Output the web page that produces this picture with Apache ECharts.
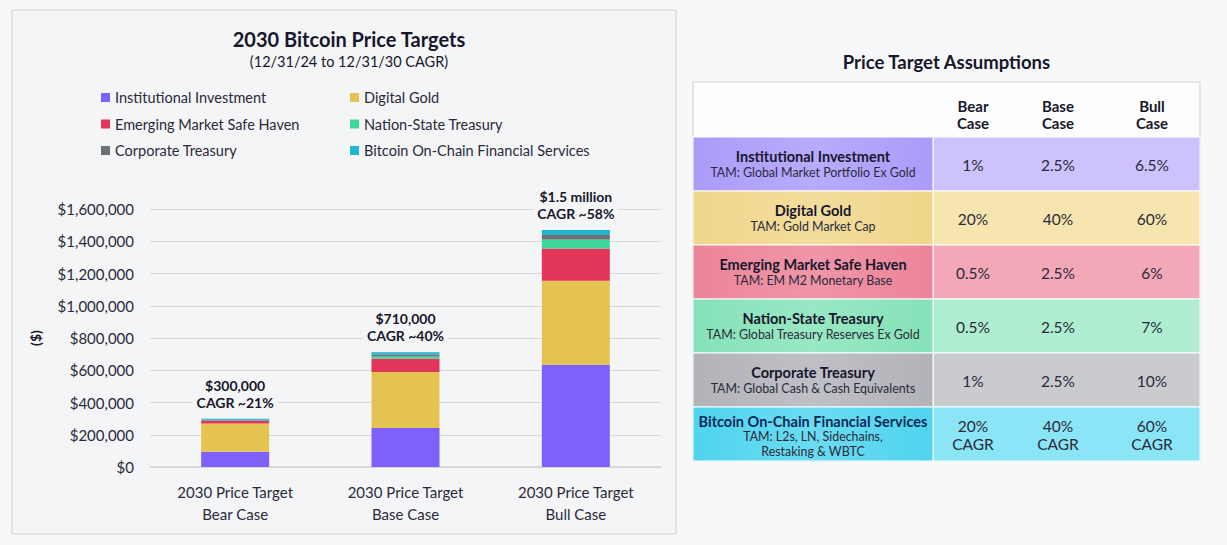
<!DOCTYPE html>
<html>
<head>
<meta charset="utf-8">
<title>2030 Bitcoin Price Targets</title>
<script src="https://cdn.jsdelivr.net/npm/echarts@6/dist/echarts.min.js"></script>
<style>
  html, body { margin: 0; padding: 0; background: #f7f8f9; }
  #main { width: 1227px; height: 545px; }
</style>
</head>
<body>
<div id="main"></div>
<script>
// stacked bar data ($)
const categories = ['2030 Price Target\nBear Case', '2030 Price Target\nBase Case', '2030 Price Target\nBull Case'];
const institutional = [95000, 242000, 634000];
const digitalGold = [175000, 347000, 521000];
const emergingMarket = [15000, 83000, 200000];
const nationState = [4000, 14000, 56000];
const corporate = [4000, 12000, 27000];
const onChain = [7000, 14000, 31000];
const totalLabels = ['$300,000', '$710,000', '$1.5 million'];
const cagrLabels = ['CAGR ~21%', 'CAGR ~40%', 'CAGR ~58%'];
const yMax = 1600000;
const yStep = 200000;

// assumptions table
const caseHeaders = ['Bear\nCase', 'Base\nCase', 'Bull\nCase'];
const assumptionNames = ['Institutional Investment', 'Digital Gold', 'Emerging Market Safe Haven',
  'Nation-State Treasury', 'Corporate Treasury', 'Bitcoin On-Chain Financial Services'];
const assumptionTams = ['TAM: Global Market Portfolio Ex Gold', 'TAM: Gold Market Cap', 'TAM: EM M2 Monetary Base',
  'TAM: Global Treasury Reserves Ex Gold', 'TAM: Global Cash & Cash Equivalents', 'TAM: L2s, LN, Sidechains,\nRestaking & WBTC'];
const bearCase = ['1%', '20%', '0.5%', '0.5%', '1%', '20%\nCAGR'];
const baseCase = ['2.5%', '40%', '2.5%', '2.5%', '2.5%', '40%\nCAGR'];
const bullCase = ['6.5%', '60%', '6%', '7%', '10%', '60%\nCAGR'];

const seriesNames = assumptionNames;
const seriesColors = ['#7f60fa', '#e5c352', '#e1355a', '#3dd69b', '#6d7076', '#22b5cf'];
const nameCellColors = [['#ab9bf9', '#b8abfb'], ['#efd68a', '#f2dd9c'], ['#ec8499', '#f095a8'],
  ['#86e2b8', '#98e8c3'], ['#b1b3b9', '#bec0c5'], ['#4fd4ee', '#6bdcf2']];
const valueCellColors = ['#cdc2fd', '#f6e5ae', '#f3a8b7', '#afeed1', '#cacbcf', '#8ae5f6'];

const FONT = 'Lato';
const INK = '#17172b';
const PANEL = '#f4f5f7';

const chart = echarts.init(document.getElementById('main'), null, { renderer: 'svg' });

// table layout
const tLeft = 693, tRight = 1200, tTop = 82, headH = 55, rowH = 54, nameRight = 933;
const colCenters = [973, 1058, 1152];
const nameCenter = (tLeft + nameRight) / 2;

const graphics = [];
graphics.push({
  type: 'rect', z: -10, silent: true,
  shape: { x: 12, y: 10, width: 664, height: 524 },
  style: { fill: PANEL, stroke: '#d3d4d6', lineWidth: 1.2 }
});
graphics.push({
  type: 'text', style: { text: 'Price Target Assumptions', x: (tLeft + tRight) / 2, y: 62,
    align: 'center', verticalAlign: 'middle', fill: INK, fontFamily: FONT, fontSize: 18.5, fontWeight: 'bold' }
});
graphics.push({
  type: 'rect', shape: { x: tLeft, y: tTop, width: tRight - tLeft, height: headH + rowH * 6 },
  style: { fill: '#fdfdfd', stroke: '#d6d7d9', lineWidth: 1.2 }
});
caseHeaders.forEach((h, i) => {
  graphics.push({
    type: 'text', style: { text: h, x: colCenters[i], y: tTop + headH / 2 + 5, align: 'center',
      verticalAlign: 'middle', lineHeight: 17, fill: INK, fontFamily: FONT, fontSize: 15, fontWeight: 'bold' }
  });
});
assumptionNames.forEach((name, r) => {
  const y0 = tTop + headH + r * rowH;
  const last = r === assumptionNames.length - 1;
  graphics.push({
    type: 'rect', shape: { x: nameRight, y: y0, width: tRight - nameRight, height: rowH },
    style: { fill: valueCellColors[r], stroke: '#ffffff', lineWidth: 1 }
  });
  graphics.push({
    type: 'rect', shape: { x: tLeft, y: y0, width: nameRight - tLeft, height: rowH },
    style: {
      fill: new echarts.graphic.LinearGradient(0, 0, 1, 0, [
        { offset: 0, color: nameCellColors[r][0] }, { offset: 0.5, color: nameCellColors[r][1] },
        { offset: 1, color: nameCellColors[r][0] }]),
      stroke: '#ffffff', lineWidth: 1
    }
  });
  graphics.push({
    type: 'text', style: { text: name, x: nameCenter, y: y0 + (last ? 14 : 19), align: 'center',
      verticalAlign: 'middle', fill: last ? '#0c2a56' : INK, fontFamily: FONT, fontSize: 14.5, fontWeight: 'bold' }
  });
  graphics.push({
    type: 'text', style: { text: assumptionTams[r], x: nameCenter, y: y0 + (last ? 37 : 35), align: 'center',
      verticalAlign: 'middle', lineHeight: 15, fill: '#2a2a3a', fontFamily: FONT, fontSize: 12.4 }
  });
  [bearCase, baseCase, bullCase].forEach((col, c) => {
    graphics.push({
      type: 'text', style: { text: col[r], x: colCenters[c], y: y0 + rowH / 2 + 1, align: 'center',
        verticalAlign: 'middle', lineHeight: 18, fill: '#2a2a3a', fontFamily: FONT, fontSize: 15.5 }
    });
  });
});

const seriesData = [institutional, digitalGold, emergingMarket, nationState, corporate, onChain];
const series = seriesData.map((d, i) => ({
  name: seriesNames[i],
  type: 'bar',
  stack: 'total',
  barWidth: 68,
  data: d,
  itemStyle: { color: seriesColors[i] },
  label: i === seriesData.length - 1 ? {
    show: true,
    position: 'top',
    distance: 8,
    formatter: p => totalLabels[p.dataIndex] + '\n' + cagrLabels[p.dataIndex],
    color: INK,
    fontFamily: FONT,
    fontSize: 14,
    fontWeight: 'bold',
    lineHeight: 17,
    backgroundColor: PANEL,
    padding: [0, 4]
  } : { show: false }
}));

const legendText = { color: '#2a2a3a', fontFamily: FONT, fontSize: 14.5, lineHeight: 14 };

chart.setOption({
  backgroundColor: 'transparent',
  animation: false,
  textStyle: { fontFamily: FONT },
  title: {
    text: '2030 Bitcoin Price Targets',
    subtext: '(12/31/24 to 12/31/30 CAGR)',
    left: 344,
    textAlign: 'center',
    top: 24,
    itemGap: 5,
    textStyle: { color: INK, fontFamily: FONT, fontSize: 20, fontWeight: 'bold' },
    subtextStyle: { color: INK, fontFamily: FONT, fontSize: 14.5 }
  },
  legend: [
    { data: [seriesNames[0], seriesNames[2], seriesNames[4]], orient: 'vertical', left: 96, top: 85,
      icon: 'rect', itemWidth: 9, itemHeight: 9, itemGap: 11.5, textStyle: legendText },
    { data: [seriesNames[1], seriesNames[3], seriesNames[5]], orient: 'vertical', left: 345, top: 85,
      icon: 'rect', itemWidth: 9, itemHeight: 9, itemGap: 11.5, textStyle: legendText }
  ],
  grid: { left: 150, right: 1227 - 661, top: 209, bottom: 545 - 467, containLabel: false },
  xAxis: {
    type: 'category',
    data: categories,
    axisTick: { show: false },
    axisLine: { lineStyle: { color: '#d3d4d6', width: 1.5 } },
    axisLabel: { color: '#2a2a3a', fontFamily: FONT, fontSize: 15, lineHeight: 22, margin: 14 }
  },
  yAxis: {
    type: 'value',
    min: 0,
    max: yMax,
    interval: yStep,
    name: '($)',
    nameLocation: 'middle',
    nameRotate: 90,
    nameGap: 108,
    nameTextStyle: { color: INK, fontFamily: FONT, fontSize: 14, fontWeight: 'bold' },
    axisLine: { show: false },
    axisTick: { show: false },
    axisLabel: {
      color: '#2a2a3a', fontFamily: FONT, fontSize: 15, margin: 16,
      formatter: v => '$' + v.toLocaleString('en-US')
    },
    splitLine: { lineStyle: { color: '#d6d7d9', width: 1.2 } }
  },
  series: series,
  graphic: graphics
});
</script>
</body>
</html>
